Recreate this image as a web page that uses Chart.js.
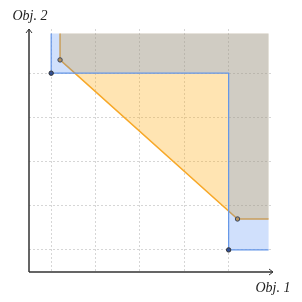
<!DOCTYPE html>
<html>
<head>
<meta charset="utf-8">
<script src="https://cdn.jsdelivr.net/npm/chart.js@4/dist/chart.umd.min.js"></script>
<style>
  html, body { margin: 0; padding: 0; background: #fff; }
  #wrap { width: 302px; height: 302px; }
</style>
</head>
<body>
<div id="wrap"><canvas id="mycanvas"></canvas></div>
<script>
// two fronts, each as a pair of points (Obj. 1, Obj. 2)
var blueX = [1, 5];
var blueY = [5, 1];
var orangeX = [1.2, 5.2];
var orangeY = [5.3, 1.7];
// upper bound of the shaded regions
var refX = 5.9;
var refY = 5.9;
var tickValues = [1, 2, 3, 4, 5];
var axisMin = 0.5;
var axisMax = 6;

// staircase for the blue front
var bluePath = [{x: blueX[0], y: refY}];
for (var i = 0; i < blueX.length; i++) {
  if (i > 0) bluePath.push({x: blueX[i], y: blueY[i - 1]});
  bluePath.push({x: blueX[i], y: blueY[i]});
}
bluePath.push({x: refX, y: blueY[blueY.length - 1]});
var blueShape = bluePath.concat([{x: refX, y: refY}]);

// straight segments for the orange front
var orangePath = [{x: orangeX[0], y: refY}];
for (var j = 0; j < orangeX.length; j++) {
  orangePath.push({x: orangeX[j], y: orangeY[j]});
}
orangePath.push({x: refX, y: orangeY[orangeY.length - 1]});
var orangeShape = orangePath.concat([{x: refX, y: refY}]);

function markAt(path, xs, ys, r) {
  return path.map(function(p) {
    for (var k = 0; k < xs.length; k++) {
      if (p.x === xs[k] && p.y === ys[k]) return r;
    }
    return 0;
  });
}

var arrowAxes = {
  id: 'arrowAxes',
  afterDraw: function(chart) {
    var ctx = chart.ctx;
    var a = chart.chartArea;
    ctx.save();
    ctx.strokeStyle = '#333';
    ctx.lineWidth = 1.5;
    ctx.beginPath();
    ctx.moveTo(a.left, a.bottom);
    ctx.lineTo(a.left, a.top);
    ctx.moveTo(a.left, a.bottom);
    ctx.lineTo(a.right, a.bottom);
    ctx.stroke();
    ctx.lineWidth = 1;
    ctx.beginPath();
    ctx.moveTo(a.left - 3, a.top + 4);
    ctx.lineTo(a.left, a.top);
    ctx.lineTo(a.left + 3, a.top + 4);
    ctx.moveTo(a.right - 4, a.bottom - 3);
    ctx.lineTo(a.right, a.bottom);
    ctx.lineTo(a.right - 4, a.bottom + 3);
    ctx.stroke();
    ctx.fillStyle = '#222';
    ctx.font = 'italic 14px "Liberation Serif"';
    ctx.textAlign = 'center';
    ctx.textBaseline = 'middle';
    ctx.fillText('Obj. 2', a.left + 1, 16);
    ctx.fillText('Obj. 1', a.right, 288);
    ctx.restore();
  }
};

var ctx = document.getElementById('mycanvas');

var chart = new Chart(ctx, {
  type: 'line',
  data: {
    datasets: [
      {
        label: 'blue front',
        data: bluePath,
        borderColor: 'rgb(100, 150, 232)',
        borderWidth: 1.2,
        fill: false,
        pointRadius: markAt(bluePath, blueX, blueY, 2.2),
        pointBackgroundColor: 'rgb(50, 80, 150)',
        pointBorderColor: '#333',
        pointBorderWidth: 1,
        order: 1
      },
      {
        label: 'blue region',
        data: blueShape,
        backgroundColor: 'rgba(66, 133, 244, 0.25)',
        borderWidth: 0,
        pointRadius: 0,
        fill: 'shape',
        order: 2
      },
      {
        label: 'orange front',
        data: orangePath,
        borderColor: 'rgb(247, 168, 40)',
        borderWidth: 1.5,
        fill: false,
        pointRadius: markAt(orangePath, orangeX, orangeY, 2.2),
        pointBackgroundColor: 'rgb(220, 150, 40)',
        pointBorderColor: '#333',
        pointBorderWidth: 1,
        order: 3
      },
      {
        label: 'orange region',
        data: orangeShape,
        backgroundColor: 'rgba(255, 165, 0, 0.3)',
        borderWidth: 0,
        pointRadius: 0,
        fill: 'shape',
        order: 4
      }
    ]
  },
  options: {
    responsive: true,
    maintainAspectRatio: false,
    animation: false,
    layout: { padding: { left: 29, top: 29, right: 29, bottom: 30 } },
    plugins: {
      legend: { display: false },
      tooltip: { enabled: false }
    },
    elements: { line: { tension: 0 } },
    scales: {
      x: {
        type: 'linear',
        min: axisMin,
        max: axisMax,
        afterBuildTicks: function(axis) {
          axis.ticks = tickValues.map(function(v) { return {value: v}; });
        },
        ticks: { display: false },
        border: { display: false, dash: [2, 2] },
        grid: { color: 'rgba(0,0,0,0.16)', drawTicks: false, tickLength: 0 }
      },
      y: {
        type: 'linear',
        min: axisMin,
        max: axisMax,
        afterBuildTicks: function(axis) {
          axis.ticks = tickValues.map(function(v) { return {value: v}; });
        },
        ticks: { display: false },
        border: { display: false, dash: [2, 2] },
        grid: { color: 'rgba(0,0,0,0.16)', drawTicks: false, tickLength: 0 }
      }
    }
  },
  plugins: [arrowAxes]
});
</script>
</body>
</html>
